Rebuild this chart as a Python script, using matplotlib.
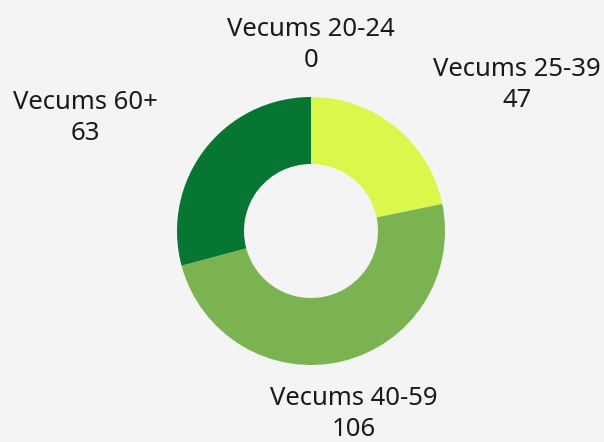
import matplotlib.pyplot as plt

# Data
categories = ["Vecums 20-24", "Vecums 25-39", "Vecums 40-59", "Vecums 60+"]
values = [0, 47, 106, 63]
colors = ["#c8e64a", "#d9f84b", "#7cb351", "#067632"]

# label centres in pixel coords (x, y from top)
label_pos = [(311, 45), (517, 85), (354, 414), (85, 118)]

W, H = 604, 442
bg = "#f4f4f4"

fig = plt.figure(figsize=(W / 100, H / 100), dpi=100, facecolor=bg)
ax = fig.add_axes([0, 0, 1, 1])
ax.set_facecolor(bg)

cx, cy, r = 311, H - 231, 134
ax.pie(
    values,
    colors=colors,
    startangle=90,
    counterclock=False,
    center=(cx, cy),
    radius=r,
    wedgeprops=dict(width=r / 2, linewidth=0),
    frame=True,
)
ax.set_xlim(0, W)
ax.set_ylim(0, H)
ax.set_aspect("equal")
ax.axis("off")

for cat, val, (x, y) in zip(categories, values, label_pos):
    ax.text(x, H - y, f"{cat}\n{val}", ha="center", va="center",
            fontsize=18.5, family="Noto Sans", color="#1a1a1a", linespacing=1.28)

fig.savefig("out.png", dpi=100, facecolor=bg)
